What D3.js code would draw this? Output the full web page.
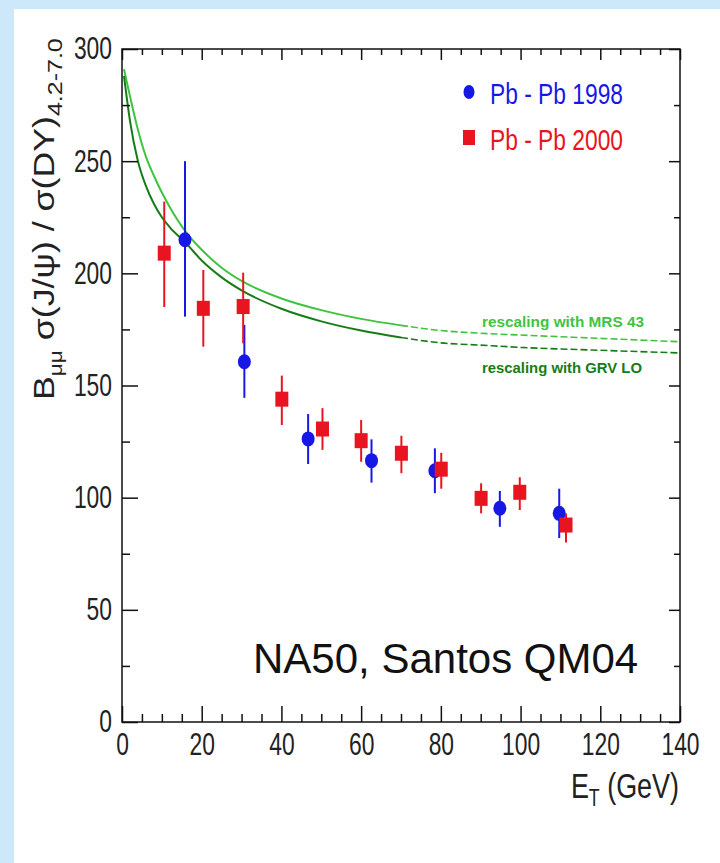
<!DOCTYPE html>
<html>
<head>
<meta charset="utf-8">
<script src="https://cdn.jsdelivr.net/npm/d3@7"></script>
<style>
  body { margin: 0; background: #cde8fb; }
  svg { display: block; font-family: "Liberation Sans", Arial, sans-serif; }
</style>
</head>
<body>
<script>
// J/psi over Drell-Yan ratio vs transverse energy, NA50 Pb-Pb

// Pb-Pb 1998 (blue circles)
const et98 = [15.8, 30.7, 46.7, 62.6, 78.5, 94.8, 109.7];
const val98 = [215, 160.6, 126.2, 116.5, 112, 95.3, 93];
const low98 = [180.7, 144.5, 115, 106.7, 102, 87, 82];
const high98 = [250, 177, 137.3, 126, 122, 103, 104];

// Pb-Pb 2000 (red squares)
const et00 = [10.6, 20.4, 30.4, 40.1, 50.3, 60, 70.1, 80.1, 90.1, 99.8, 111.4];
const val00 = [209, 184.4, 185.2, 143.9, 130.6, 125.4, 119.8, 112.7, 99.7, 102.4, 87.8];
const low00 = [185, 167.3, 168.8, 132.4, 121.3, 116, 110.9, 104, 93, 94.5, 80];
const high00 = [232, 201.5, 200.3, 154.4, 139.9, 134.6, 127.6, 120, 106.4, 109.1, 93];

// normal nuclear absorption curves
const curveEt = [0.5, 2, 4, 6, 8, 10, 12, 16, 20, 25, 30, 40, 50, 60, 70, 80, 90, 100, 120, 140];
const mrs43 = [291, 279, 264, 252, 243.5, 236, 229.5, 218.5, 210.5, 202.5, 196.6, 188.8, 183.6, 179.7, 176.8, 174.5, 173.3, 172.5, 171, 169.5];
const grvLo = [288, 268, 250, 239, 231, 225, 220.5, 213.6, 205.7, 198.2, 192.4, 184.2, 178.6, 174.5, 171.4, 169, 168, 167, 165.7, 164.5];

const xTicks = [0, 20, 40, 60, 80, 100, 120, 140];
const yTicks = [0, 50, 100, 150, 200, 250, 300];

const width = 720, height = 863;
const x = d3.scaleLinear().domain([0, 140]).range([122, 680]);
const y = d3.scaleLinear().domain([0, 300]).range([722, 49]);

const svg = d3.select("body").append("svg")
  .attr("width", width)
  .attr("height", height);

// white panel on the light blue page
svg.append("rect")
  .attr("x", 14).attr("y", 9)
  .attr("width", width - 14).attr("height", height - 9)
  .attr("fill", "white");

// curves: solid at low Et, dashed further right
const split = 70;
function drawCurve(vals, color) {
  const pts = curveEt.map((e, i) => [e, vals[i]]);
  const line = d3.line().x(d => x(d[0])).y(d => y(d[1])).curve(d3.curveMonotoneX);
  svg.append("path")
    .datum(pts.filter(d => d[0] <= split))
    .attr("d", line)
    .attr("fill", "none").attr("stroke", color).attr("stroke-width", 2);
  svg.append("path")
    .datum(pts.filter(d => d[0] >= split))
    .attr("d", line)
    .attr("fill", "none").attr("stroke", color).attr("stroke-width", 1.6)
    .attr("stroke-dasharray", "7,3");
}
drawCurve(mrs43, "#3fc43f");
drawCurve(grvLo, "#167d16");

svg.append("text")
  .attr("x", 482).attr("y", 327)
  .attr("font-size", 15).attr("font-weight", "bold")
  .attr("textLength", 162).attr("lengthAdjust", "spacingAndGlyphs")
  .attr("fill", "#3fc43f")
  .text("rescaling with MRS 43");
svg.append("text")
  .attr("x", 482).attr("y", 373)
  .attr("font-size", 15).attr("font-weight", "bold")
  .attr("textLength", 160).attr("lengthAdjust", "spacingAndGlyphs")
  .attr("fill", "#167d16")
  .text("rescaling with GRV LO");

// data series
const blue = "#1818e6", red = "#e81420";
const d98 = et98.map((e, i) => ({ e, v: val98[i], lo: low98[i], hi: high98[i] }));
const d00 = et00.map((e, i) => ({ e, v: val00[i], lo: low00[i], hi: high00[i] }));

svg.append("g").selectAll("line")
  .data(d98).enter().append("line")
  .attr("x1", d => x(d.e)).attr("x2", d => x(d.e))
  .attr("y1", d => y(d.lo)).attr("y2", d => y(d.hi))
  .attr("stroke", blue).attr("stroke-width", 2);
svg.append("g").selectAll("ellipse")
  .data(d98).enter().append("ellipse")
  .attr("cx", d => x(d.e)).attr("cy", d => y(d.v))
  .attr("rx", 6.5).attr("ry", 7.5)
  .attr("fill", blue);

svg.append("g").selectAll("line")
  .data(d00).enter().append("line")
  .attr("x1", d => x(d.e)).attr("x2", d => x(d.e))
  .attr("y1", d => y(d.lo)).attr("y2", d => y(d.hi))
  .attr("stroke", red).attr("stroke-width", 2);
svg.append("g").selectAll("rect")
  .data(d00).enter().append("rect")
  .attr("x", d => x(d.e) - 6.5).attr("y", d => y(d.v) - 7.5)
  .attr("width", 13).attr("height", 15)
  .attr("fill", red);

// legend
svg.append("ellipse")
  .attr("cx", 469).attr("cy", 92).attr("rx", 5.5).attr("ry", 7)
  .attr("fill", blue);
svg.append("text")
  .attr("x", 490).attr("y", 104)
  .attr("font-size", 30).attr("textLength", 133).attr("lengthAdjust", "spacingAndGlyphs")
  .attr("fill", blue).text("Pb - Pb 1998");
svg.append("rect")
  .attr("x", 463).attr("y", 130).attr("width", 12).attr("height", 15)
  .attr("fill", red);
svg.append("text")
  .attr("x", 490).attr("y", 150)
  .attr("font-size", 30).attr("textLength", 133).attr("lengthAdjust", "spacingAndGlyphs")
  .attr("fill", red).text("Pb - Pb 2000");

// axes, ticks on the inside of the frame
const minorX = d3.range(0, 141, 5).filter(v => v % 20 !== 0);
const minorY = d3.range(0, 301, 25).filter(v => v % 50 !== 0);

function styleLabels(g) {
  g.select(".domain").remove();
  g.selectAll("line").attr("stroke", "#111").attr("stroke-width", 1.5);
  g.selectAll("text")
    .attr("font-size", 31)
    .attr("fill", "#222")
    .attr("textLength", d => String(d).length * 12.7)
    .attr("lengthAdjust", "spacingAndGlyphs");
}

svg.append("g").attr("transform", "translate(0,722)")
  .call(d3.axisBottom(x).tickValues(xTicks).tickSizeInner(-16).tickSizeOuter(0).tickPadding(11))
  .call(styleLabels);
svg.append("g").attr("transform", "translate(0,722)")
  .call(d3.axisBottom(x).tickValues(minorX).tickSizeInner(-8).tickSizeOuter(0).tickFormat(""))
  .call(styleLabels);
svg.append("g").attr("transform", "translate(122,0)")
  .call(d3.axisLeft(y).tickValues(yTicks).tickSizeInner(-16).tickSizeOuter(0).tickPadding(10))
  .call(styleLabels);
svg.append("g").attr("transform", "translate(122,0)")
  .call(d3.axisLeft(y).tickValues(minorY).tickSizeInner(-8).tickSizeOuter(0).tickFormat(""))
  .call(styleLabels);
svg.append("g").attr("transform", "translate(0,49)")
  .call(d3.axisTop(x).tickValues(xTicks).tickSizeInner(-11).tickSizeOuter(0).tickFormat(""))
  .call(styleLabels);
svg.append("g").attr("transform", "translate(0,49)")
  .call(d3.axisTop(x).tickValues(minorX).tickSizeInner(-6).tickSizeOuter(0).tickFormat(""))
  .call(styleLabels);
svg.append("g").attr("transform", "translate(680,0)")
  .call(d3.axisRight(y).tickValues(yTicks).tickSizeInner(-11).tickSizeOuter(0).tickFormat(""))
  .call(styleLabels);
svg.append("g").attr("transform", "translate(680,0)")
  .call(d3.axisRight(y).tickValues(minorY).tickSizeInner(-6).tickSizeOuter(0).tickFormat(""))
  .call(styleLabels);

// frame
svg.append("rect")
  .attr("x", 122).attr("y", 49)
  .attr("width", 680 - 122).attr("height", 722 - 49)
  .attr("fill", "none").attr("stroke", "#111").attr("stroke-width", 1.5);

// axis titles
const xTitle = svg.append("text")
  .attr("transform", "translate(679,798) scale(0.77,1)")
  .attr("text-anchor", "end")
  .attr("font-size", 35).attr("fill", "#222");
xTitle.append("tspan").text("E");
xTitle.append("tspan").attr("font-size", 23).attr("dy", 8).text("T");
xTitle.append("tspan").attr("dy", -8).text(" (GeV)");

// stretched along its length, as in the original
const yTitle = svg.append("text")
  .attr("transform", "translate(54,400) rotate(-90) scale(1.19,1)")
  .attr("font-size", 30).attr("fill", "#222");
yTitle.append("tspan").text("B");
yTitle.append("tspan").attr("font-size", 19).attr("dy", 8).text("μμ");
yTitle.append("tspan").attr("dy", -8).text(" σ(J/ψ) / σ(DY)");
yTitle.append("tspan").attr("font-size", 21).attr("dy", 8).text("4.2-7.0");

// annotation
svg.append("text")
  .attr("x", 253).attr("y", 673)
  .attr("font-size", 42).attr("fill", "#111")
  .text("NA50, Santos QM04");
</script>
</body>
</html>
